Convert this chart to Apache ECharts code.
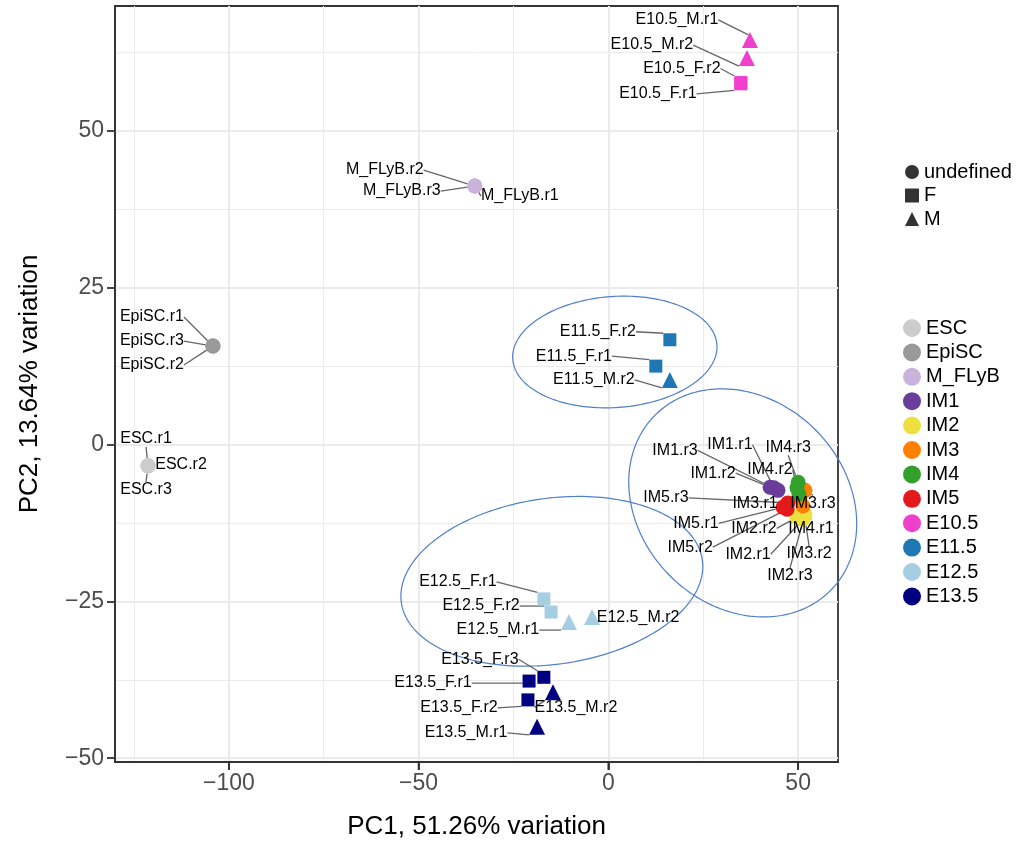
<!DOCTYPE html>
<html>
<head>
<meta charset="utf-8">
<script src="https://cdn.jsdelivr.net/npm/echarts@6/dist/echarts.min.js"></script>
<style>html,body{margin:0;padding:0;background:#fff}#c{width:1022px;height:847px}</style>
</head>
<body>
<div id="c"></div>
<script>
// ---------------- data ----------------
const groups = ['ESC','EpiSC','M_FLyB','IM1','IM2','IM3','IM4','IM5','E10.5','E11.5','E12.5','E13.5'];
const sexes = ['undefined','F','M'];
const samples = [
  'ESC.r1','ESC.r2','ESC.r3',
  'EpiSC.r1','EpiSC.r2','EpiSC.r3',
  'M_FLyB.r1','M_FLyB.r2','M_FLyB.r3',
  'IM1.r1','IM1.r2','IM1.r3',
  'IM2.r1','IM2.r2','IM2.r3',
  'IM3.r1','IM3.r2','IM3.r3',
  'IM4.r1','IM4.r2','IM4.r3',
  'IM5.r1','IM5.r2','IM5.r3',
  'E10.5_M.r1','E10.5_M.r2','E10.5_F.r1','E10.5_F.r2',
  'E11.5_F.r1','E11.5_F.r2','E11.5_M.r2',
  'E12.5_F.r1','E12.5_F.r2','E12.5_M.r1','E12.5_M.r2',
  'E13.5_F.r1','E13.5_F.r2','E13.5_F.r3','E13.5_M.r1','E13.5_M.r2'
];
const sampleGroup = [
  'ESC','ESC','ESC','EpiSC','EpiSC','EpiSC','M_FLyB','M_FLyB','M_FLyB',
  'IM1','IM1','IM1','IM2','IM2','IM2','IM3','IM3','IM3','IM4','IM4','IM4','IM5','IM5','IM5',
  'E10.5','E10.5','E10.5','E10.5','E11.5','E11.5','E11.5',
  'E12.5','E12.5','E12.5','E12.5','E13.5','E13.5','E13.5','E13.5','E13.5'
];
const sampleSex = [
  'undefined','undefined','undefined','undefined','undefined','undefined','undefined','undefined','undefined',
  'undefined','undefined','undefined','undefined','undefined','undefined','undefined','undefined','undefined',
  'undefined','undefined','undefined','undefined','undefined','undefined',
  'M','M','F','F','F','F','M',
  'F','F','M','M','F','F','F','M','M'
];
const pc1 = [
  -121.3,-121.3,-121.3, -104.2,-104.2,-104.2, -35.2,-35.2,-35.2,
  43.6,42.6,44.7, 51.3,49.7,51.8, 50.5,51.3,51.8, 50.2,49.7,50.0, 46.0,47.1,47.3,
  37.3,36.5,34.9,34.9, 12.5,16.2,16.2,
  -17.0,-15.1,-10.4,-4.3, -20.9,-21.2,-17.0,-18.8,-14.6
];
const pc2 = [
  -3.4,-3.4,-3.4, 15.7,15.7,15.7, 41.2,41.2,41.2,
  -6.9,-6.8,-7.3, -11.9,-11.6,-11.2, -8.4,-9.8,-7.3, -7.9,-6.9,-6.0, -10.0,-10.3,-9.3,
  64.5,61.6,57.5,57.7, 12.5,16.7,10.3,
  -24.6,-26.7,-28.3,-27.5, -37.7,-40.7,-37.1,-45.0,-39.5
];
const xTicks = [-100,-50,0,50];
const yTicks = [-50,-25,0,25,50];
const xMinor = [-125,-75,-25,25];
const yMinor = [-37.5,-12.5,12.5,37.5,62.5];
const xRange = [-130, 60.5];
const yRange = [-50.6, 69.9];
// ellipse annotations: centre and two conjugate semi-axes (data units)
const ellipseCx = [1.7, 35.4, -14.9];
const ellipseCy = [14.75, -9.3, -21.8];
const ellipseAx = [26.9, 23.1, 39.66];
const ellipseAy = [1.14, -13.98, 3.38];
const ellipseBx = [1.02, -19.19, 3.03];
const ellipseBy = [-8.83, -11.62, -13.1];

// ---------------- styles ----------------
const groupColors = {
  'ESC':'#cccccc','EpiSC':'#999999','M_FLyB':'#c9b3db','IM1':'#6a3d9a','IM2':'#eee13f',
  'IM3':'#ff7f00','IM4':'#33a02c','IM5':'#e31a1c','E10.5':'#f03fcd','E11.5':'#1f78b4',
  'E12.5':'#a6cee3','E13.5':'#000080'
};
const sexSymbol = {'undefined':'circle','F':'rect','M':'triangle'};
const sexSize = {'undefined':15,'F':13,'M':16};
// label centre offsets relative to point (pixels), repel-style
const labelOffset = {
  'ESC.r1':[-2,-27],'ESC.r2':[33,-1],'ESC.r3':[-2,24],
  'EpiSC.r1':[-61,-29],'EpiSC.r3':[-61,-5],'EpiSC.r2':[-61,19],
  'M_FLyB.r2':[-90,-16],'M_FLyB.r3':[-73,5],'M_FLyB.r1':[45,10],
  'E10.5_M.r1':[-73,-20],'E10.5_M.r2':[-95,-13],'E10.5_F.r2':[-59,-14],'E10.5_F.r1':[-83,10],
  'E11.5_F.r2':[-72,-8],'E11.5_F.r1':[-82,-10],'E11.5_M.r2':[-76,0],
  'IM1.r3':[-103,-40],'IM1.r1':[-44,-43],'IM4.r3':[-10,-35],'IM1.r2':[-57,-14],'IM4.r2':[-27,-18],
  'IM5.r3':[-122,-5],'IM3.r1':[-45,6],'IM3.r3':[8,13],'IM5.r1':[-87,16],'IM2.r2':[-43,11],
  'IM4.r1':[12,34],'IM5.r2':[-97,38],'IM2.r1':[-55,35],'IM3.r2':[6,48],'IM2.r3':[-15,61],
  'E12.5_F.r1':[-86,-17],'E12.5_F.r2':[-70,-6],'E12.5_M.r1':[-71,8],'E12.5_M.r2':[46,1],
  'E13.5_F.r3':[-64,-18],'E13.5_F.r1':[-96,2],'E13.5_F.r2':[-69,8],'E13.5_M.r2':[23,15],'E13.5_M.r1':[-71,6]
};
const FONT = "'Liberation Sans', Arial, Helvetica, sans-serif";
const TICK_LEN = 8;

// ---------------- build ----------------
const chart = echarts.init(document.getElementById('c'), null, {renderer:'canvas'});

const series = [];
// gridlines
const gridLineData = [];
xMinor.forEach(v => gridLineData.push({xAxis:v, lineStyle:{width:1}}));
yMinor.forEach(v => gridLineData.push({yAxis:v, lineStyle:{width:1}}));
xTicks.forEach(v => gridLineData.push({xAxis:v, lineStyle:{width:2}}));
yTicks.forEach(v => gridLineData.push({yAxis:v, lineStyle:{width:2}}));
series.push({
  type:'line', data:[], silent:true, z:0,
  markLine:{silent:true, z:0, symbol:['none','none'], label:{show:false}, animation:false,
    lineStyle:{color:'#ebebeb', type:'solid'}, emphasis:{disabled:true}, data:gridLineData}
});
// x-axis tick marks below the panel
series.push({
  type:'custom', silent:true, z:5, clip:false, animation:false,
  data: xTicks.map(v => [v, yRange[0]]),
  renderItem: function(params, api){
    const p = api.coord([api.value(0), yRange[0]]);
    return {type:'line', shape:{x1:p[0], y1:p[1], x2:p[0], y2:p[1] + TICK_LEN},
            style:{stroke:'#333', lineWidth:1.8}};
  }
});
// ellipses (custom series, not clipped to the panel)
series.push({
  type:'custom', silent:true, z:2, clip:false, animation:false,
  data: ellipseCx.map((c, i) => [c, ellipseCy[i]]),
  renderItem: function(params, api){
    const e = params.dataIndex;
    const pts = [];
    for (let k = 0; k <= 200; k++) {
      const t = 2 * Math.PI * k / 200;
      pts.push(api.coord([ellipseCx[e] + ellipseAx[e]*Math.cos(t) + ellipseBx[e]*Math.sin(t),
                          ellipseCy[e] + ellipseAy[e]*Math.cos(t) + ellipseBy[e]*Math.sin(t)]));
    }
    return {type:'polyline', shape:{points:pts}, style:{stroke:'#4f7fc9', fill:null, lineWidth:1.2}};
  }
});
// shape legend dummies
sexes.forEach(s => series.push({name:s, type:'scatter', data:[], itemStyle:{color:'#000'}, symbol:sexSymbol[s]}));
// points per group
groups.forEach(g => {
  const data = [];
  samples.forEach((n, i) => {
    if (sampleGroup[i] !== g) return;
    const s = sampleSex[i];
    data.push({name:n, value:[pc1[i], pc2[i]], symbol:sexSymbol[s], symbolSize:sexSize[s]});
  });
  series.push({
    name:g, type:'scatter', data:data, z:3, animation:false,
    itemStyle:{color:groupColors[g], opacity:1},
    label:{show:true, position:'inside', formatter:'{b}', color:'#000', fontSize:16, fontFamily:FONT,
      textBorderWidth:0, textBorderColor:'transparent', padding:[1,4]},
    labelLine:{show:true, lineStyle:{color:'#666', width:1.3}},
    labelLayout: function(p){
      const o = labelOffset[p.text] || [0,0];
      return {dx:o[0], dy:o[1], hideOverlap:false};
    }
  });
});

const axisLineStyle = {show:true, onZero:false, lineStyle:{color:'#333', width:1.8}};
chart.setOption({
  animation:false,
  backgroundColor:'#fff',
  textStyle:{fontFamily:FONT},
  grid:{left:115, right:184, top:6, bottom:85, show:true, borderColor:'#333', borderWidth:1.8, z:0},
  xAxis:{
    type:'value', min:xRange[0], max:xRange[1],
    splitLine:{show:false},
    axisLine:axisLineStyle,
    axisTick:{show:true, customValues:xTicks, length:TICK_LEN, lineStyle:{color:'#333', width:1.8}},
    axisLabel:{customValues:xTicks, fontSize:23, color:'#4d4d4d', margin:10, fontFamily:FONT,
      formatter:v => (v < 0 ? '\u2212' + Math.abs(v) : String(v))},
    name:'PC1, 51.26% variation', nameLocation:'middle', nameGap:52,
    nameTextStyle:{fontSize:26, color:'#000', fontFamily:FONT}
  },
  yAxis:{
    type:'value', min:yRange[0], max:yRange[1],
    splitLine:{show:false},
    axisLine:axisLineStyle,
    axisTick:{show:true, customValues:yTicks, length:TICK_LEN, lineStyle:{color:'#333', width:1.8}},
    axisLabel:{customValues:yTicks, fontSize:23, color:'#4d4d4d', margin:11, fontFamily:FONT,
      formatter:v => (v < 0 ? '\u2212' + Math.abs(v) : String(v))},
    name:'PC2, 13.64% variation', nameLocation:'middle', nameGap:72, nameRotate:90,
    nameTextStyle:{fontSize:26, color:'#000', fontFamily:FONT}
  },
  legend:[
    {orient:'vertical', left:905, top:162, padding:0, itemWidth:14, itemHeight:14, itemGap:3.5,
     selectedMode:false,
     textStyle:{fontSize:20, color:'#000', fontFamily:FONT},
     data:[{name:'undefined', icon:'circle'},{name:'F', icon:'rect'},{name:'M', icon:'triangle'}]},
    {orient:'vertical', left:903, top:318, padding:0, itemWidth:18, itemHeight:18, itemGap:4.4,
     selectedMode:false, icon:'circle',
     textStyle:{fontSize:20, color:'#000', fontFamily:FONT},
     data:groups}
  ],
  series:series
});
</script>
</body>
</html>
